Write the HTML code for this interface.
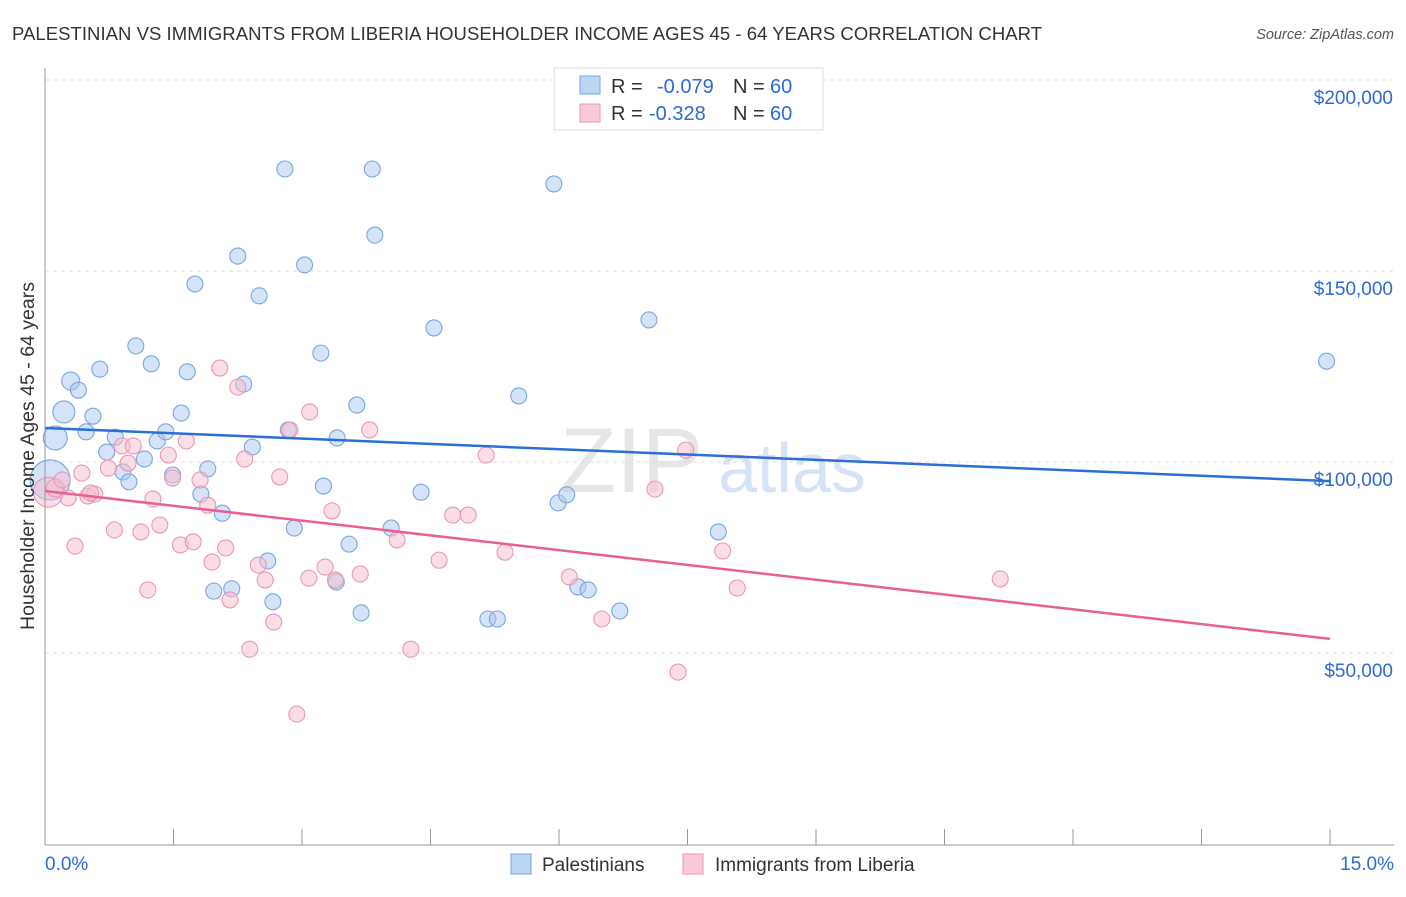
<!DOCTYPE html>
<html><head><meta charset="utf-8"><style>
body{margin:0;background:#fff;font-family:"Liberation Sans",sans-serif;}
svg text{font-family:"Liberation Sans",sans-serif;}
</style></head><body>
<svg id="chart" width="1406" height="892">
<text x="12" y="40" font-size="18.5" fill="#333" textLength="1030">PALESTINIAN VS IMMIGRANTS FROM LIBERIA HOUSEHOLDER INCOME AGES 45 - 64 YEARS CORRELATION CHART</text>
<text x="1394" y="39" font-size="14.5" fill="#555" font-style="italic" text-anchor="end">Source: ZipAtlas.com</text>
<text x="560" y="492" font-size="92" fill="#e6e6e6" font-family="Liberation Serif">ZIP</text>
<text x="718" y="492" font-size="70" fill="#d6e3f5">atlas</text>
<g id="grid"></g><g id="pts"></g><g id="lines"></g><g id="axes"></g>
<text transform="translate(34,456) rotate(-90)" font-size="19.5" fill="#333" text-anchor="middle">Householder Income Ages 45 - 64 years</text>
<g>
<rect x="554" y="68" width="269" height="62" fill="#fff" stroke="#ddd"/>
<rect x="580" y="76" width="20" height="18" fill="#bcd5f3" stroke="#7aa6dd"/>
<rect x="580" y="104" width="20" height="18" fill="#f9c9d8" stroke="#eb97b3"/>
<text x="611" y="93" font-size="20" fill="#333">R =</text>
<text x="657" y="93" font-size="20" fill="#2d6ad3">-0.079</text>
<text x="733" y="93" font-size="20" fill="#333">N =</text>
<text x="770" y="93" font-size="20" fill="#2d6ad3">60</text>
<text x="611" y="120" font-size="20" fill="#333">R =</text>
<text x="649" y="120" font-size="20" fill="#2d6ad3">-0.328</text>
<text x="733" y="120" font-size="20" fill="#333">N =</text>
<text x="770" y="120" font-size="20" fill="#2d6ad3">60</text>
</g>
<g>
<rect x="511" y="854" width="20" height="20" fill="#bcd5f3" stroke="#7aa6dd"/>
<text x="542" y="871" font-size="19" fill="#333">Palestinians</text>
<rect x="683" y="854" width="20" height="20" fill="#f9c9d8" stroke="#eb97b3"/>
<text x="715" y="871" font-size="19" fill="#333">Immigrants from Liberia</text>
</g>
</svg>
<script>
const xTicks=[0,1.5,3,4.5,6,7.5,9,10.5,12,13.5,15];
const yTicks=[50000,100000,150000,200000];
const yTickLabels=["$50,000","$100,000","$150,000","$200,000"];
const blueX=[0.12,0.22,0.30,0.39,0.48,0.56,0.64,0.72,0.82,0.91,0.98,1.06,1.16,1.24,1.31,1.41,1.49,1.59,1.66,1.75,1.82,1.90,2.07,1.97,2.18,2.25,2.32,2.42,2.50,2.60,2.66,2.80,2.84,2.91,3.03,3.22,3.25,3.41,3.40,3.55,3.64,3.69,3.82,3.85,4.04,4.39,4.54,5.17,5.28,5.53,5.94,5.99,6.09,6.22,6.34,6.71,7.05,7.86,14.96,0.06];
const blueY=[106300,113100,121200,118800,107900,112000,124300,102600,106500,97400,94800,130400,100800,125700,105500,107900,96600,112800,123600,146600,91600,98200,86600,66200,66800,153900,120400,103900,143500,74100,63400,176700,108400,82700,151600,128500,93700,106300,68600,78500,114900,60500,176700,159400,82700,92100,135100,58900,58900,117300,172800,89300,91400,67300,66500,61000,137200,81700,126400,95300];
const blueR=[12,11,9,8,8,8,8,8,8,8,8,8,8,8,8,8,8,8,8,8,8,8,8,8,8,8,8,8,8,8,8,8,8,8,8,8,8,8,8,8,8,8,8,8,8,8,8,8,8,8,8,8,8,8,8,8,8,8,8,20];
const pinkX=[0.04,0.12,0.20,0.27,0.35,0.43,0.50,0.58,0.74,0.81,0.90,0.97,1.03,1.12,1.20,1.26,1.34,1.44,1.49,1.58,1.65,1.73,1.81,1.90,1.95,2.11,2.16,2.25,2.33,2.39,2.49,2.57,2.67,2.74,2.86,2.94,3.08,3.09,3.27,3.35,3.39,3.68,3.79,4.11,4.27,4.60,4.76,4.94,5.15,5.37,6.12,6.50,7.12,7.39,7.48,7.91,8.08,11.15,2.04,0.53];
const pinkY=[92100,93200,95300,90600,78000,97100,91100,91600,98400,82200,104200,99700,104200,81700,66500,90300,83500,101800,95800,78300,105500,79100,95300,88700,73800,77500,63900,119600,100800,51000,73000,69100,58100,96100,108400,34000,69600,113100,72500,87200,69100,70700,108400,79600,51000,74300,86100,86100,101800,76400,69900,58900,92900,45000,103100,76700,67000,69400,124600,91900];
const pinkR=[15,9,8,8,8,8,8,8,8,8,8,8,8,8,8,8,8,8,8,8,8,8,8,8,8,8,8,8,8,8,8,8,8,8,8,8,8,8,8,8,8,8,8,8,8,8,8,8,8,8,8,8,8,8,8,8,8,8,8,8];
const blueTrend=[108900,95000];
const pinkTrend=[92400,53700];
const X=v=>45+v*(1330-45)/15;
const Y=v=>844-v*191/50000;
const NS="http://www.w3.org/2000/svg";
function mk(tag,attrs,parent){const e=document.createElementNS(NS,tag);for(const k in attrs)e.setAttribute(k,attrs[k]);document.getElementById(parent).appendChild(e);return e;}
yTicks.forEach((t,i)=>{
 const g=mk('line',{x1:45,x2:1394,y1:Y(t),y2:Y(t),stroke:'#ddd','stroke-dasharray':'4,4'},'grid');
 
 
 const l=mk('text',{x:1393,y:Y(t)+24,'font-size':19,fill:'#2d6ad3','text-anchor':'end'},'axes');
 l.textContent=yTickLabels[i];
 
 
});
function dots(xs,ys,rs,fill,stroke,name){xs.forEach((x,i)=>{
 const c=mk('circle',{cx:X(x),cy:Y(ys[i]),r:rs[i],fill:fill,'fill-opacity':0.5,stroke:stroke,'stroke-width':1.1},'pts');
 
 
});}
dots(blueX,blueY,blueR,'#a9c8ef','#7aa6dd','palestinian-point');
dots(pinkX,pinkY,pinkR,'#f6bccf','#eb97b3','liberia-point');
const bl=mk('line',{x1:X(0),x2:X(15),y1:Y(blueTrend[0]),y2:Y(blueTrend[1]),stroke:'#2a6fd6','stroke-width':2.5},'lines');


const pl=mk('line',{x1:X(0),x2:X(15),y1:Y(pinkTrend[0]),y2:Y(pinkTrend[1]),stroke:'#e8608f','stroke-width':2.5},'lines');


const ax=mk('line',{x1:45,x2:1394,y1:845,y2:845,stroke:'#999'},'axes');


const ay=mk('line',{x1:45,x2:45,y1:68,y2:845,stroke:'#999'},'axes');


xTicks.forEach(t=>{
 const k=mk('line',{x1:X(t),x2:X(t),y1:829,y2:845,stroke:'#999'},'axes');
 
 
});
const x0=mk('text',{x:45,y:870,'font-size':19,fill:'#2d6ad3'},'axes');x0.textContent='0.0%';


const x1=mk('text',{x:1394,y:870,'font-size':19,fill:'#2d6ad3','text-anchor':'end'},'axes');x1.textContent='15.0%';


</script>
</body></html>
